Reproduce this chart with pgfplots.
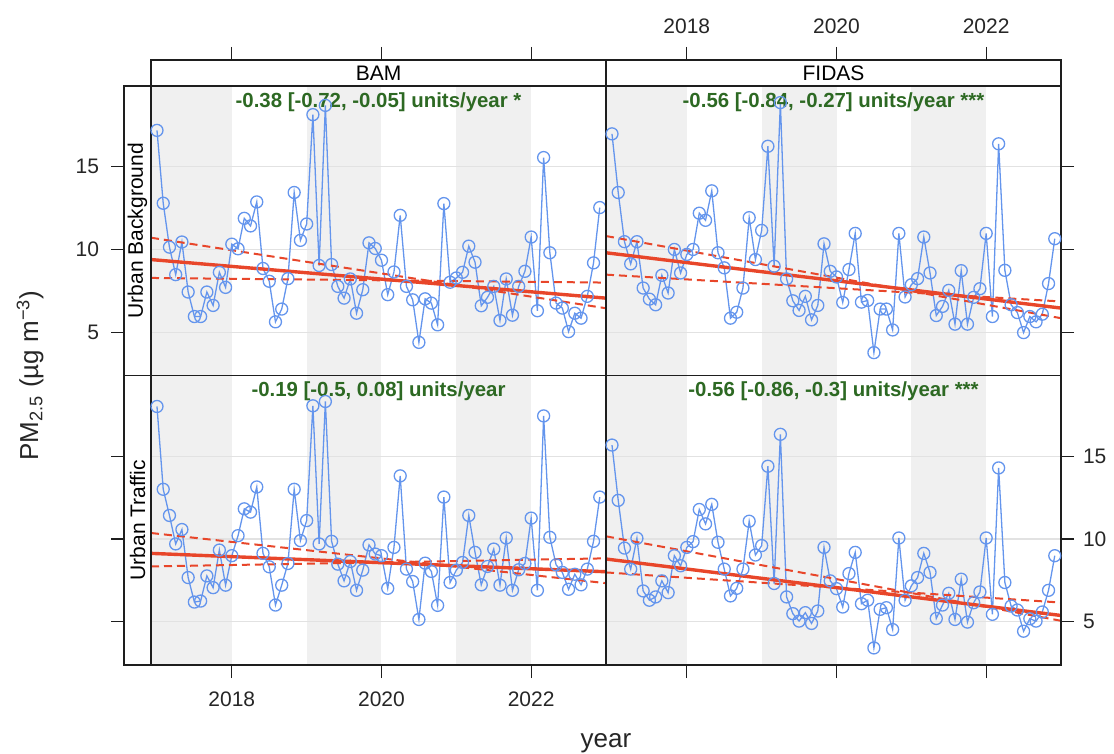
\documentclass[border=0pt]{standalone}
\usepackage{fontspec}
\setmainfont{Liberation Sans}
\usepackage{pgfplots}
\pgfplotsset{compat=1.18}
\usepackage{pgfplotstable}

\definecolor{cblue}{RGB}{100,149,237}
\definecolor{tred}{RGB}{232,70,42}
\definecolor{greenc}{RGB}{45,105,35}
\definecolor{bandc}{RGB}{240,240,240}
\definecolor{gridc}{RGB}{226,226,226}
\definecolor{framec}{RGB}{30,30,30}

\pgfplotstableread[row sep=\\]{y\\17.19\\12.79\\10.14\\8.48\\10.45\\7.43\\5.95\\5.95\\7.43\\6.62\\8.62\\7.71\\10.32\\10.04\\11.88\\11.42\\12.87\\8.85\\8.08\\5.63\\6.40\\8.24\\13.44\\10.55\\11.54\\18.14\\9.03\\18.70\\9.09\\7.77\\7.06\\8.22\\6.15\\7.57\\10.40\\10.06\\9.35\\7.27\\8.64\\12.06\\7.77\\6.96\\4.39\\7.02\\6.76\\5.45\\12.77\\8.02\\8.28\\8.62\\10.20\\9.23\\6.60\\7.11\\7.77\\5.71\\8.22\\6.03\\7.77\\8.68\\10.75\\6.30\\15.55\\9.80\\6.76\\6.46\\5.04\\6.15\\5.85\\7.17\\9.19\\12.53\\}\tTL
\pgfplotstableread[row sep=\\]{y\\16.98\\13.44\\10.47\\9.13\\10.47\\7.67\\7.00\\6.66\\8.44\\7.37\\10.00\\8.58\\9.70\\10.00\\12.19\\11.76\\13.54\\9.80\\8.89\\5.85\\6.21\\7.67\\11.92\\9.39\\11.15\\16.23\\8.99\\18.87\\8.22\\6.90\\6.32\\7.17\\5.75\\6.62\\10.34\\8.68\\8.34\\6.80\\8.79\\10.97\\6.82\\6.92\\3.77\\6.40\\6.40\\5.14\\10.97\\7.13\\7.87\\8.24\\10.75\\8.58\\6.01\\6.56\\7.53\\5.49\\8.72\\5.49\\7.11\\7.63\\10.97\\5.95\\16.38\\8.74\\6.66\\6.19\\4.98\\5.95\\5.63\\6.09\\7.94\\10.65\\}\tTR
\pgfplotstableread[row sep=\\]{y\\18.00\\13.00\\11.42\\9.70\\10.57\\7.67\\6.19\\6.25\\7.77\\7.06\\9.33\\7.21\\8.99\\10.20\\11.82\\11.62\\13.14\\9.13\\8.32\\6.01\\7.21\\8.52\\13.00\\9.90\\11.11\\18.04\\9.70\\18.30\\9.86\\8.48\\7.47\\8.64\\6.90\\8.12\\9.64\\9.09\\8.99\\7.02\\9.49\\13.81\\8.18\\7.43\\5.14\\8.54\\8.04\\5.99\\12.53\\7.37\\8.12\\8.58\\11.42\\9.19\\7.23\\8.34\\9.39\\7.21\\10.06\\6.90\\8.14\\8.52\\11.26\\6.90\\17.43\\10.10\\8.44\\7.98\\6.96\\7.87\\7.23\\8.18\\9.86\\12.53\\}\tBL
\pgfplotstableread[row sep=\\]{y\\15.67\\12.33\\9.45\\8.18\\10.04\\6.86\\6.30\\6.50\\7.47\\6.76\\8.99\\8.38\\9.49\\9.84\\11.78\\10.91\\12.09\\9.80\\8.18\\6.56\\7.02\\8.18\\11.07\\9.03\\9.60\\14.39\\7.31\\16.32\\6.50\\5.49\\5.04\\5.55\\4.90\\5.65\\9.49\\7.47\\7.00\\5.89\\7.91\\9.19\\6.09\\6.30\\3.42\\5.75\\5.85\\4.53\\10.06\\6.30\\7.17\\7.67\\9.13\\7.98\\5.20\\6.01\\6.72\\5.14\\7.57\\4.98\\6.15\\6.80\\10.06\\5.45\\14.29\\7.37\\5.95\\5.71\\4.43\\5.18\\5.04\\5.59\\6.90\\8.99\\}\tBR

\newcommand\fs{\fontsize{10.5}{12}\selectfont}
\newcommand\xa{2016.92}
\newcommand\xb{2023.0}
\newcommand\ya{2.39}
\newcommand\yb{19.87}

\pgfplotsset{
  base/.style={scale only axis, anchor=north west, axis on top,
    axis line style={line width=0.6pt, framec},
    tick style={line width=0.6pt, framec},
    major tick length=6.5pt, tick align=outside,
    ticklabel style={font=\fs, text=black!85},
    xtick=\empty, ytick=\empty},
  panel/.style={base, width=227.5pt, height=144.75pt,
    xmin=\xa, xmax=\xb, ymin=\ya, ymax=\yb, clip=true},
  datal/.style={color=cblue, line width=0.65pt, mark=o, mark size=3pt, mark options={line width=0.65pt, solid}},
  trend/.style={color=tred, line width=1.7pt, no marks},
  ci/.style={color=tred, line width=1pt, dash pattern=on 4pt off 2.5pt, no marks},
}

\newcommand\bands{%
  \fill[bandc] (axis cs:\xa,\ya) rectangle (axis cs:2018,\yb);
  \fill[bandc] (axis cs:2019,\ya) rectangle (axis cs:2020,\yb);
  \fill[bandc] (axis cs:2021,\ya) rectangle (axis cs:2022,\yb);
  \draw[gridc, line width=0.6pt] (axis cs:\xa,5) -- (axis cs:\xb,5);
  \draw[gridc, line width=0.6pt] (axis cs:\xa,10) -- (axis cs:\xb,10);
  \draw[gridc, line width=0.6pt] (axis cs:\xa,15) -- (axis cs:\xb,15);
}
\newcommand\anno[1]{\node[anchor=north, inner sep=0pt, text=greenc, font=\bfseries\fontsize{10.2}{12}\selectfont] at (rel axis cs:0.5,1) [yshift=-3pt] {#1};}

\begin{document}
\begin{tikzpicture}
\useasboundingbox (0,0) rectangle (557pt,-377pt);

% top strips
\begin{axis}[base, width=227.5pt, height=13pt, at={(75.5pt,-30pt)},
  xmin=\xa, xmax=\xb, ymin=0, ymax=1,
  xtick={2018,2020,2022}, xtick pos=right, xticklabels={,,}]
  \node[font=\fs] at (rel axis cs:0.5,0.5) {BAM};
\end{axis}
\begin{axis}[base, width=227.5pt, height=13pt, at={(303pt,-30pt)},
  xmin=\xa, xmax=\xb, ymin=0, ymax=1,
  xtick={2018,2020,2022}, xtick pos=right, xticklabel pos=right, xticklabels={2018,2020,2022},
  xticklabel style={yshift=3pt}]
  \node[font=\fs] at (rel axis cs:0.5,0.5) {FIDAS};
\end{axis}

% left strips
\begin{axis}[base, width=13.5pt, height=144.75pt, at={(62pt,-43pt)},
  xmin=0, xmax=1, ymin=\ya, ymax=\yb,
  ytick={5,10,15}, ytick pos=left, yticklabels={5,10,15},
  yticklabel style={xshift=-2.5pt}]
  \node[font=\fs, rotate=90] at (rel axis cs:0.5,0.5) {Urban Background};
\end{axis}
\begin{axis}[base, width=13.5pt, height=144.75pt, at={(62pt,-187.75pt)},
  xmin=0, xmax=1, ymin=\ya, ymax=\yb,
  ytick={5,10,15}, ytick pos=left, yticklabels={,,}]
  \node[font=\fs, rotate=90] at (rel axis cs:0.5,0.5) {Urban Traffic};
\end{axis}

% top-left: BAM, Urban Background
\begin{axis}[panel, at={(75.5pt,-43pt)}]
  \bands
  \addplot[datal] table[x expr=2017+\coordindex/12, y=y] {\tTL};
  \addplot[trend] coordinates {(2016.92,9.39) (2023.0,7.06)};
  \addplot[ci] coordinates {(2016.92,10.71) (2023.0,6.45)};
  \addplot[ci] coordinates {(2016.92,8.28) (2023.0,8.00)};
  \anno{-0.38 [-0.72, -0.05] units/year *}
\end{axis}

% top-right: FIDAS, Urban Background
\begin{axis}[panel, at={(303pt,-43pt)},
  ytick={5,10,15}, ytick pos=right, yticklabels={,,}]
  \bands
  \addplot[datal] table[x expr=2017+\coordindex/12, y=y] {\tTR};
  \addplot[trend] coordinates {(2016.92,9.80) (2023.0,6.46)};
  \addplot[ci] coordinates {(2016.92,10.81) (2023.0,5.85)};
  \addplot[ci] coordinates {(2016.92,8.48) (2023.0,6.86)};
  \anno{-0.56 [-0.84, -0.27] units/year ***}
\end{axis}

% bottom-left: BAM, Urban Traffic
\begin{axis}[panel, at={(75.5pt,-187.75pt)},
  xtick={2018,2020,2022}, xtick pos=left, xticklabels={2018,2020,2022},
  xticklabel style={yshift=-3.5pt}]
  \bands
  \addplot[datal] table[x expr=2017+\coordindex/12, y=y] {\tBL};
  \addplot[trend] coordinates {(2016.92,9.13) (2023.0,8.02)};
  \addplot[ci] coordinates {(2016.92,10.36) (2023.0,7.33)};
  \addplot[ci] coordinates {(2016.92,8.34) (2023.0,8.83)};
  \anno{-0.19 [-0.5, 0.08] units/year}
\end{axis}

% bottom-right: FIDAS, Urban Traffic
\begin{axis}[panel, at={(303pt,-187.75pt)},
  xtick={2018,2020,2022}, xtick pos=left, xticklabels={,,},
  ytick={5,10,15}, ytick pos=right, yticklabel pos=right, yticklabels={5,10,15},
  yticklabel style={xshift=1pt}]
  \bands
  \addplot[datal] table[x expr=2017+\coordindex/12, y=y] {\tBR};
  \addplot[trend] coordinates {(2016.92,8.79) (2023.0,5.38)};
  \addplot[ci] coordinates {(2016.92,10.16) (2023.0,5.06)};
  \addplot[ci] coordinates {(2016.92,7.98) (2023.0,6.16)};
  \anno{-0.56 [-0.86, -0.3] units/year ***}
\end{axis}

\node[rotate=90, font=\fontsize{13}{15}\selectfont, text=black!85] at (15pt,-187.75pt) {PM\textsubscript{2.5} (µg m\textsuperscript{−3})};
\node[font=\fontsize{13}{15}\selectfont, text=black!85] at (303pt,-371.5pt) {year};
\end{tikzpicture}
\end{document}
